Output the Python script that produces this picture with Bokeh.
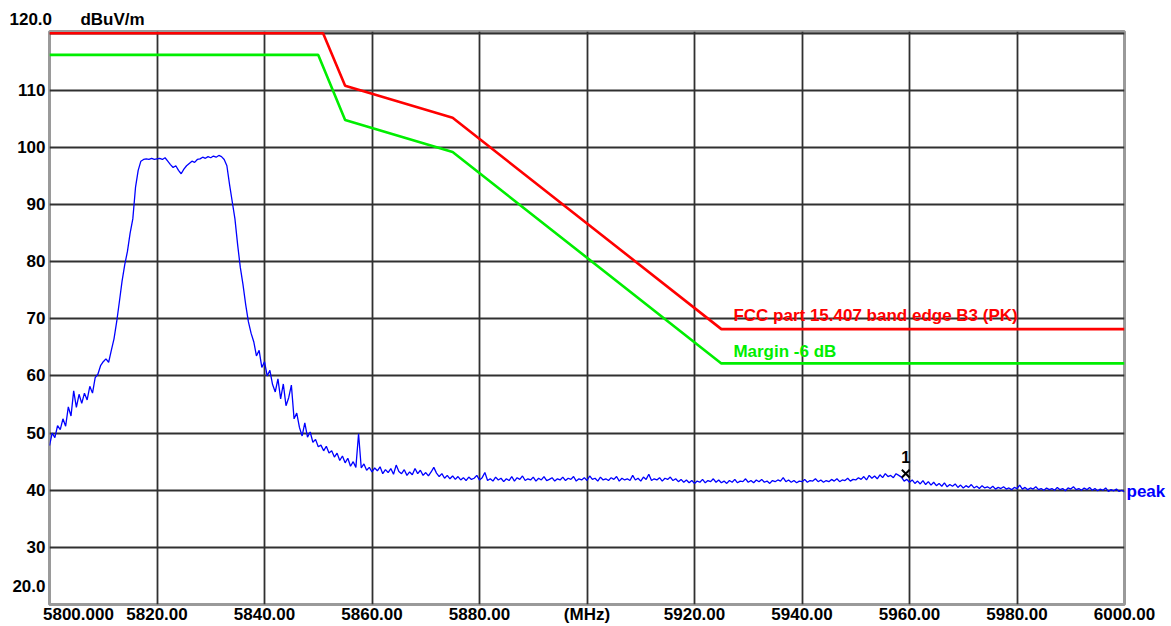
from bokeh.plotting import figure
from bokeh.models import Range1d, FixedTicker, LinearAxis
from bokeh.core.properties import value
from bokeh.embed import file_html
from bokeh.resources import INLINE

# ---------------- data ----------------
freq_start = 5800.0
freq_step = 0.5
trace_db = [
    # 5800.0 - 5824.5
    47.8, 50.0, 49.2, 51.3, 50.6, 52.5, 51.2, 54.6, 53.0, 57.4,
    54.5, 56.8, 55.2, 57.0, 55.8, 58.2, 57.0, 59.7, 60.3, 61.8,
    62.5, 63.0, 62.4, 64.5, 66.5, 69.5, 73.0, 76.6, 79.5, 81.8,
    85.0, 87.5, 93.0, 96.0, 97.6, 97.9, 98.0, 97.9, 98.1, 97.9,
    98.0, 98.1, 97.9, 98.2, 97.6, 97.0, 96.5, 96.8, 96.0, 95.4,
    # 5825.0 - 5849.5
    96.2, 96.8, 97.2, 97.6, 97.4, 97.9, 98.0, 98.3, 98.1, 98.4,
    98.2, 98.5, 98.3, 98.6, 98.4, 97.9, 96.8, 93.5, 90.5, 87.5,
    83.0, 79.0, 76.0, 72.5, 69.5, 67.5, 66.0, 63.5, 64.5, 61.5,
    62.5, 60.0, 61.0, 58.5, 57.2, 59.5, 56.0, 58.6, 54.8, 56.2,
    58.4, 52.5, 53.5, 51.0, 49.5, 51.8, 49.3, 50.2, 48.4, 48.9,
    # 5850.0 - 5874.5
    47.6, 47.9, 46.9, 47.7, 46.5, 46.9, 45.8, 46.5, 45.2, 46.0,
    44.8, 45.6, 44.2, 45.0, 44.0, 49.9, 43.9, 44.6, 43.5, 44.0,
    43.2, 43.9, 43.4, 44.1, 42.9, 43.6, 43.1, 43.8, 42.8, 44.4,
    43.3, 42.9, 43.6, 42.6, 43.2, 42.7, 43.8, 42.9, 43.5, 42.6,
    43.1, 42.5, 43.2, 44.0, 43.0, 42.4, 42.9, 42.1, 42.6, 42.0,
    # 5875.0 - 5899.5
    42.5, 41.9, 42.4, 41.8, 42.2, 41.7, 42.3, 41.9, 42.1, 42.6,
    41.8, 42.2, 43.1, 41.7, 42.0, 41.6, 42.3, 41.8, 42.1, 41.5,
    42.0, 41.7, 42.4, 41.6, 42.2, 41.9, 42.5, 41.7, 42.0, 41.8,
    42.3, 41.6, 42.1, 41.8, 42.4, 41.7, 41.9, 42.2, 41.6, 42.0,
    41.8, 42.3, 41.7, 42.1, 41.9, 42.4, 41.6, 42.0, 41.8, 42.2,
    # 5900.0 - 5924.5
    41.7, 42.5, 41.9, 42.1, 41.6, 42.3, 41.8, 42.0, 41.7, 42.2,
    41.9, 42.4, 41.6, 42.1, 41.8, 42.0, 41.7, 42.6, 41.8, 42.1,
    41.6, 42.3, 41.9, 42.8, 41.7, 42.0, 41.8, 42.2, 41.6, 42.1,
    41.9, 42.3, 41.7, 42.0, 41.5, 41.9, 41.4, 41.8, 41.3, 41.7,
    41.2, 41.6, 41.4, 41.9, 41.3, 41.7, 41.5, 42.0, 41.4, 41.8,
    # 5925.0 - 5949.5
    41.3, 41.6, 41.2, 41.7, 41.4, 41.9, 41.3, 41.6, 41.5, 42.0,
    41.4, 41.7, 41.3, 41.8, 41.5, 41.9, 41.4, 41.6, 41.2, 41.7,
    41.5, 41.8, 41.6, 42.2, 41.5, 41.8, 41.4, 41.7, 41.3, 41.6,
    41.5, 41.9, 41.4, 41.7, 41.6, 42.0, 41.5, 41.8, 41.4, 41.7,
    41.5, 41.9, 41.6, 42.0, 41.5, 41.8, 41.7, 42.1, 41.6, 41.9,
    # 5950.0 - 5974.5
    41.8, 42.2, 41.9, 42.4, 41.8, 42.6, 42.1, 42.5, 42.0, 42.7,
    42.2, 42.9, 42.4, 42.6, 42.2, 42.9, 42.6, 42.3, 41.6, 41.9,
    41.4, 41.8, 41.2, 41.6, 41.1, 41.7, 41.0, 41.5, 40.9, 41.4,
    40.8, 41.2, 40.7, 41.3, 40.6, 41.0, 40.7, 41.1, 40.5, 40.9,
    40.4, 40.8, 40.5, 41.0, 40.4, 40.7, 40.3, 40.8, 40.4, 40.6,
    # 5975.0 - 6000.0
    40.3, 40.7, 40.2, 40.5, 40.3, 40.6, 40.2, 40.4, 40.1, 40.5,
    40.3, 40.9, 40.2, 40.5, 40.1, 40.4, 40.2, 40.6, 40.1, 40.3,
    40.0, 40.4, 40.1, 40.3, 40.0, 40.5, 40.1, 40.3, 39.9, 40.4,
    40.2, 40.6, 40.1, 40.3, 40.0, 40.4, 40.1, 40.5, 40.0, 40.3,
    39.9, 40.2, 40.0, 40.4, 39.8, 40.1, 39.9, 40.2, 39.8, 40.0,
    39.7,
]
trace_freq = [freq_start + freq_step * i for i in range(len(trace_db))]

limit_freq = [5800, 5850.9, 5855, 5875, 5925, 6000]
limit_db = [120, 120, 110.8, 105.2, 68.2, 68.2]
margin_freq = [5800, 5850, 5855, 5875, 5925, 6000]
margin_db = [116.2, 116.2, 104.8, 99.2, 62.2, 62.2]

marker_freq = [5959.3]
marker_db = [42.9]
marker_text = ["1"]

limit_label = "FCC part 15.407 band edge B3 (PK)"
margin_label = "Margin -6 dB"
unit_label = "dBuV/m"
trace_label = "peak"

x_ticks = [5800, 5820, 5840, 5860, 5880, 5900, 5920, 5940, 5960, 5980, 6000]
x_tick_labels = ["5800.000", "5820.00", "5840.00", "5860.00", "5880.00", "(MHz)",
                 "5920.00", "5940.00", "5960.00", "5980.00", "6000.00"]
y_ticks = [20, 30, 40, 50, 60, 70, 80, 90, 100, 110, 120]
y_tick_labels = ["20.0", "30", "40", "50", "60", "70", "80", "90", "100", "110", "120.0"]

# ---------------- figure ----------------
FONT = "Liberation Sans"
NB = "\u00a0"

p = figure(frame_width=1075, frame_height=573, output_backend="svg", toolbar_location=None,
           x_range=Range1d(5800, 6000), y_range=Range1d(20, 120.3),
           min_border_left=49, min_border_right=41, min_border_top=31, min_border_bottom=20,
           title=y_tick_labels[-1] + NB * 6 + unit_label)
p.background_fill_color = "white"
p.border_fill_color = "white"
p.outline_line_color = "#9a9a9a"
p.outline_line_width = 3

p.title.align = "left"
p.title.offset = -40
p.title.standoff = 5
p.title.text_font = FONT
p.title.text_font_style = "bold"
p.title.text_font_size = "17px"
p.title.text_color = "black"

right_axis = LinearAxis(ticker=FixedTicker(ticks=[trace_db[-1]]),
                        major_label_overrides={trace_db[-1]: trace_label})
p.add_layout(right_axis, "right")

for ax in (p.xaxis[0], p.yaxis[0], right_axis):
    ax.axis_line_color = None
    ax.major_tick_line_color = None
    ax.minor_tick_line_color = None
    ax.major_tick_out = 0
    ax.major_tick_in = 0
    ax.minor_tick_out = 0
    ax.minor_tick_in = 0
    ax.major_label_text_font = FONT
    ax.major_label_text_font_style = "bold"
    ax.major_label_text_font_size = "17px"
    ax.major_label_text_color = "black"
right_axis.major_label_text_color = "#0000ff"
right_axis.major_label_standoff = 2

p.xaxis[0].ticker = FixedTicker(ticks=x_ticks)
p.yaxis[0].ticker = FixedTicker(ticks=y_ticks)
xo = {t: l for t, l in zip(x_ticks, x_tick_labels)}
xo[x_ticks[0]] = NB * 9 + x_tick_labels[0]
yo = {t: l for t, l in zip(y_ticks, y_tick_labels)}
yo[y_ticks[0]] = y_tick_labels[0] + "\n" + NB
yo[y_ticks[-1]] = ""
p.xaxis[0].major_label_overrides = xo
p.yaxis[0].major_label_overrides = yo
p.xaxis[0].major_label_standoff = 0
p.yaxis[0].major_label_standoff = 4
p.yaxis[0].major_label_text_line_height = 1.6

p.xgrid.grid_line_color = "#303030"
p.ygrid.grid_line_color = "#303030"
p.xgrid.grid_line_width = 1.8
p.ygrid.grid_line_width = 1.8

# limit lines
p.line(margin_freq, margin_db, line_color="#00ee00", line_width=2.6)
p.line(limit_freq, limit_db, line_color="#ff0000", line_width=2.6)

# trace
p.line(trace_freq, trace_db, line_color="#0000ff", line_width=1.3)

# marker
p.scatter(marker_freq, marker_db, marker="x", size=11, line_color="black", line_width=2)
p.text(marker_freq, marker_db, text=marker_text, y_offset=-11, text_align="center",
       text_baseline="bottom", text_font=value(FONT), text_font_style="bold",
       text_font_size="16px", text_color="black")

# legend texts
p.text([limit_freq[4]], [limit_db[4]], text=[limit_label], x_offset=12, y_offset=-14,
       text_align="left", text_baseline="middle", text_font=value(FONT),
       text_font_style="bold", text_font_size="17px", text_color="#ff0000")
p.text([margin_freq[4]], [margin_db[4]], text=[margin_label], x_offset=12, y_offset=-12,
       text_align="left", text_baseline="middle", text_font=value(FONT),
       text_font_style="bold", text_font_size="17px", text_color="#00ee00")

open("out.html", "w").write(file_html(p, INLINE))
